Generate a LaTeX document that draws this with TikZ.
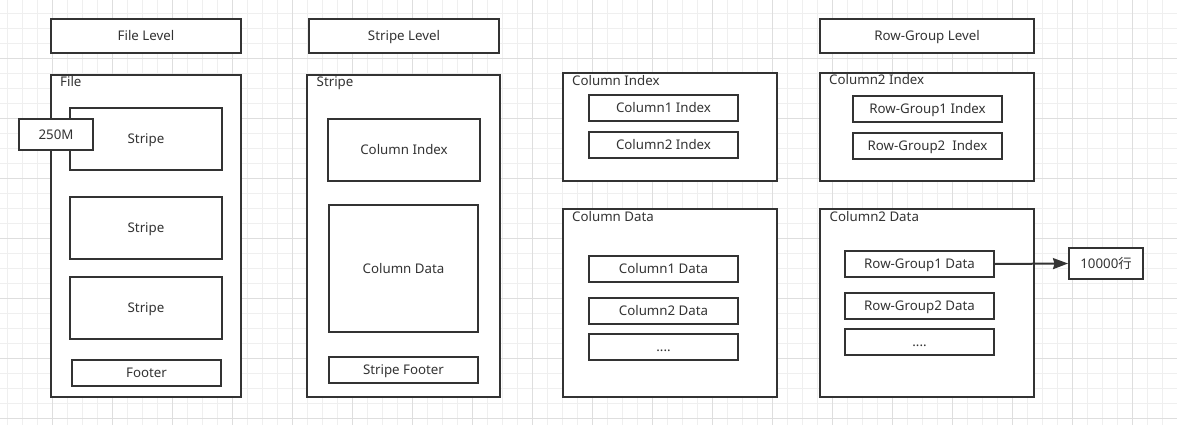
\documentclass[tikz,border=0pt]{standalone}
\usepackage{fontspec}
\setmainfont{Noto Sans}
\newfontfamily\cjk{Noto Sans CJK SC}
\usetikzlibrary{arrows.meta}
\definecolor{ink}{HTML}{333333}
\definecolor{gridminor}{HTML}{EFEFEF}
\definecolor{gridmajor}{HTML}{DEDEDE}
\tikzset{
  box/.style={draw=ink, line width=2pt, fill=white, text=ink, inner sep=0pt,
    font=\fontsize{13.3}{16}\selectfont, text height=9.5pt, text depth=0pt},
  lbl/.style={text=ink, inner sep=0pt, anchor=base west,
    font=\fontsize{13.3}{16}\selectfont},
  conn/.style={draw=ink, line width=2pt, -{Stealth[length=15pt,width=11pt,inset=1.5pt]}},
}
\begin{document}
\begin{tikzpicture}[x=1pt,y=-1pt]
\fill[white] (0,0) rectangle (1177,425);
\useasboundingbox (0,0) rectangle (1177,425);
% grid
\foreach \i in {0,...,77} {\draw[gridminor, line width=0.9pt] ({7.3+15*\i},0) -- ({7.3+15*\i},425);}
\foreach \j in {0,...,27} {\draw[gridminor, line width=0.9pt] (0,{13.3+15*\j}) -- (1177,{13.3+15*\j});}
\foreach \i in {0,...,18} {\draw[gridmajor, line width=0.9pt] ({52.3+60*\i},0) -- ({52.3+60*\i},425);}
\foreach \j in {0,...,6} {\draw[gridmajor, line width=0.9pt] (0,{58.3+60*\j}) -- (1177,{58.3+60*\j});}

% File level
\node[box, minimum width=190pt, minimum height=34pt] (fileLevel) at (146,36) {File Level};
\node[box, minimum width=190pt, minimum height=322pt] (file) at (146,236) {};
\node[lbl] (fileLbl) at (60,87) {File};
\node[box, minimum width=152pt, minimum height=62pt] (stripeA) at (146,139) {Stripe};
\node[box, minimum width=74pt, minimum height=31pt] (size) at (56,134.5) {250M};
\node[box, minimum width=152pt, minimum height=62pt] (stripeB) at (146,228) {Stripe};
\node[box, minimum width=152pt, minimum height=62pt] (stripeC) at (146,308) {Stripe};
\node[box, minimum width=149pt, minimum height=26pt] (footer) at (146.5,373) {Footer};

% Stripe level
\node[box, minimum width=190pt, minimum height=34pt] (stripeLevel) at (404,36) {Stripe Level};
\node[box, minimum width=193pt, minimum height=322pt] (stripe) at (403.5,236) {};
\node[lbl] (stripeLbl) at (316.5,87) {Stripe};
\node[box, minimum width=152pt, minimum height=62pt] (colIndex) at (404,150) {Column Index};
\node[box, minimum width=149pt, minimum height=127pt] (colData) at (403.5,268.5) {Column Data};
\node[box, minimum width=149pt, minimum height=26pt] (stripeFooter) at (403.5,370) {Stripe Footer};

% Column index / data
\node[box, minimum width=214pt, minimum height=108pt] (ciOuter) at (670,127) {};
\node[lbl] (ciLbl) at (572,85.5) {Column Index};
\node[box, minimum width=149pt, minimum height=26pt] (cOneI) at (663.5,108) {Column1 Index};
\node[box, minimum width=149pt, minimum height=26pt] (cTwoI) at (663.5,145) {Column2 Index};
\node[box, minimum width=214pt, minimum height=188pt] (cdOuter) at (670,303) {};
\node[lbl] (cdLbl) at (572,221) {Column Data};
\node[box, minimum width=149pt, minimum height=26pt] (cOneD) at (663.5,269) {Column1 Data};
\node[box, minimum width=149pt, minimum height=26pt] (cTwoD) at (663.5,311) {Column2 Data};
\node[box, minimum width=149pt, minimum height=26pt] (cDots) at (663.5,347) {....};

% Row-group level
\node[box, minimum width=214pt, minimum height=34pt] (rgLevel) at (927,36) {Row-Group Level};
\node[box, minimum width=214pt, minimum height=108pt] (ctiOuter) at (927,127) {};
\node[lbl] (ctiLbl) at (829,85) {Column2 Index};
\node[box, minimum width=149pt, minimum height=26pt] (rgOneI) at (927.5,109) {Row-Group1 Index};
\node[box, minimum width=149pt, minimum height=26pt] (rgTwoI) at (927.5,146) {Row-Group2\ \ Index};
\node[box, minimum width=214pt, minimum height=188pt] (ctdOuter) at (927,303) {};
\node[lbl] (ctdLbl) at (829.5,221) {Column2 Data};
\node[box, minimum width=149pt, minimum height=26pt] (rgOneD) at (919.5,264) {Row-Group1 Data};
\node[box, minimum width=149pt, minimum height=26pt] (rgTwoD) at (919.5,306) {Row-Group2 Data};
\node[box, minimum width=149pt, minimum height=26pt] (rgDots) at (919.5,342) {....};
\node[box, minimum width=74pt, minimum height=31pt] (rows) at (1106,263.5) {10000{\cjk 行}};

\draw[conn] (rgOneD.east) -- (rows.west);
\end{tikzpicture}
\end{document}
